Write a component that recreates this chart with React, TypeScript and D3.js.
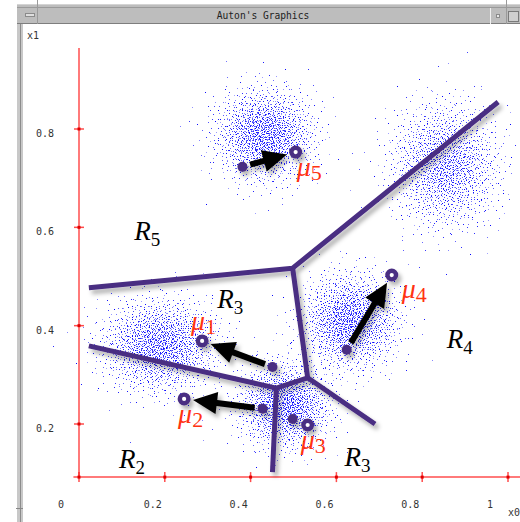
import React, { useMemo } from 'react';
import * as d3 from 'd3';

const W = 520;
const H = 522;

// Gaussian clusters of the sample (centre, spread in data units, point count)
const clusterCenters: [number, number][] = [
  [0.432, 0.788],
  [0.853, 0.727],
  [0.631, 0.41],
  [0.187, 0.36],
  [0.479, 0.239],
];
const clusterSpreads: [number, number][] = [
  [0.056, 0.046],
  [0.062, 0.062],
  [0.056, 0.047],
  [0.066, 0.046],
  [0.052, 0.042],
];
const clusterSizes = [1700, 1700, 1700, 1800, 1600];

// Means before (filled dots) and after (rings) the update step
const meanIds = ['1', '2', '3', '4', '5'];
const oldMeans: [number, number][] = [
  [0.451, 0.316],
  [0.428, 0.231],
  [0.498, 0.21],
  [0.624, 0.351],
  [0.381, 0.723],
];
const newMeans: [number, number][] = [
  [0.287, 0.369],
  [0.245, 0.251],
  [0.533, 0.198],
  [0.729, 0.503],
  [0.505, 0.753],
];
const meanMoved = [true, true, false, true, true];

// Voronoi region boundaries
const boundaryPaths: [number, number][][] = [
  [[0.023, 0.477], [0.498, 0.517], [0.977, 0.855]],
  [[0.498, 0.517], [0.533, 0.294], [0.69, 0.2]],
  [[0.023, 0.359], [0.46, 0.273], [0.533, 0.294]],
  [[0.46, 0.273], [0.451, 0.102]],
];

// Region names
const regionIds = ['5', '3', '4', '2', '3'];
const regionAnchors: [number, number][] = [
  [0.129, 0.574],
  [0.322, 0.436],
  [0.857, 0.355],
  [0.093, 0.111],
  [0.619, 0.115],
];

// Axes
const xTicks = [0, 0.2, 0.4, 0.6, 0.8, 1];
const xTickLabels = ['0', '0.2', '0.4', '0.6', '0.8', '1'];
const yTicks = [0.2, 0.4, 0.6, 0.8];
const yTickLabels = ['0.2', '0.4', '0.6', '0.8'];
const xAxisExtent = [-0.013, 1.03];
const yAxisExtent = [0.092, 0.965];

const x = d3.scaleLinear().domain([0, 1]).range([79, 508]);
const y = d3.scaleLinear().domain([0.2, 0.8]).range([424, 129]);

const PURPLE = '#4a2d82';
const MU_RED = '#ff3312';
const AXIS_RED = '#ff7a7a';
const TICK_RED = '#ff2020';

// Deterministic low-discrepancy sequence for the scatter texture
function halton(i: number, b: number) {
  let f = 1;
  let r = 0;
  while (i > 0) {
    f /= b;
    r += f * (i % b);
    i = Math.floor(i / b);
  }
  return r;
}

function buildPoints() {
  const pts: { px: number; py: number; a: number }[] = [];
  clusterCenters.forEach(([cx, cy], k) => {
    const [sx, sy] = clusterSpreads[k];
    for (let j = 0; j < clusterSizes[k]; j++) {
      const idx = j + 1 + k * 2203;
      const u1 = Math.max(halton(idx, 2), 1e-6);
      const u2 = halton(idx, 3);
      const a = halton(idx, 5);
      const r = Math.sqrt(-2 * Math.log(u1));
      const vx = cx + sx * r * Math.cos(2 * Math.PI * u2);
      const vy = cy + sy * r * Math.sin(2 * Math.PI * u2);
      pts.push({ px: Math.round(x(vx)), py: Math.round(y(vy)), a: 0.35 + 0.65 * a });
    }
  });
  return pts;
}

function Arrow({ from, to }: { from: [number, number]; to: [number, number] }) {
  const p0 = [x(from[0]), y(from[1])];
  const p1 = [x(to[0]), y(to[1])];
  const dx = p1[0] - p0[0];
  const dy = p1[1] - p0[1];
  const len = Math.hypot(dx, dy);
  const ux = dx / len;
  const uy = dy / len;
  const nx = -uy;
  const ny = ux;
  const headLen = 24;
  const headHalf = 11;
  const sx = p0[0] + ux * 8;
  const sy = p0[1] + uy * 8;
  const tx = p1[0] - ux * 9;
  const ty = p1[1] - uy * 9;
  const bx = tx - ux * headLen;
  const by = ty - uy * headLen;
  const head = [
    [tx, ty],
    [bx + nx * headHalf, by + ny * headHalf],
    [bx - nx * headHalf, by - ny * headHalf],
  ];
  return (
    <g>
      <line x1={sx} y1={sy} x2={bx + ux * 2} y2={by + uy * 2} stroke="#000" strokeWidth={6} />
      <polygon points={head.map((p) => p.join(',')).join(' ')} fill="#000" />
    </g>
  );
}

function WindowFrame() {
  return (
    <g>
      {/* left border */}
      <rect x={17} y={4} width={6} height={H - 4} fill="#c8c8c8" />
      <line x1={20.5} y1={4} x2={20.5} y2={H} stroke="#8c8c8c" strokeWidth={1} />
      <line x1={16} y1={508.5} x2={23} y2={508.5} stroke="#888" strokeWidth={1} />
      {/* title bar */}
      <line x1={17} y1={4.5} x2={W} y2={4.5} stroke="#d4d4d4" strokeWidth={1} />
      <rect x={17} y={5} width={W - 17} height={19} fill="#bdbdbd" />
      <line x1={17} y1={7.5} x2={W} y2={7.5} stroke="#9a9a9a" strokeWidth={1} />
      <line x1={17} y1={23.5} x2={W} y2={23.5} stroke="#7e7e7e" strokeWidth={1} />
      <line x1={37.5} y1={0} x2={37.5} y2={24} stroke="#9a9a9a" strokeWidth={1} />
      <rect x={25.5} y={13.5} width={9} height={3} fill="#dedede" stroke="#8a8a8a" strokeWidth={1} />
      <line x1={490.5} y1={8} x2={490.5} y2={24} stroke="#f0f0f0" strokeWidth={1} />
      <rect x={496.5} y={14.5} width={3} height={3} fill="#e8e8e8" stroke="#8a8a8a" strokeWidth={1} />
      <line x1={506.5} y1={0} x2={506.5} y2={24} stroke="#9a9a9a" strokeWidth={1} />
      <rect x={508.5} y={11.5} width={10} height={10} fill="#cfcfcf" stroke="#7a7a7a" strokeWidth={1} />
      <text
        x={263}
        y={19}
        textAnchor="middle"
        fontFamily="DejaVu Sans Mono, monospace"
        fontSize={9.6}
        fill="#222"
      >
        Auton's Graphics
      </text>
    </g>
  );
}

export default function App() {
  const points = useMemo(buildPoints, []);
  const line = d3
    .line<[number, number]>()
    .x((d) => x(d[0]))
    .y((d) => y(d[1]));

  const axisY = y(yAxisExtent[0]);
  const axisX = x(0);

  return (
    <svg
      width={W}
      height={H}
      viewBox={`0 0 ${W} ${H}`}
      style={{ position: 'absolute', left: 0, top: 0, background: '#fff' }}
    >
      <defs>
        <filter id="shade" x="-20%" y="-20%" width="140%" height="140%">
          <feDropShadow dx={3} dy={4} stdDeviation={2.2} floodColor="#000" floodOpacity={0.3} />
        </filter>
      </defs>
      <rect width={W} height={H} fill="#fff" />
      <WindowFrame />

      {/* axes */}
      <g>
        <line x1={x(xAxisExtent[0])} y1={axisY} x2={x(xAxisExtent[1])} y2={axisY} stroke={AXIS_RED} strokeWidth={2} />
        <line x1={axisX} y1={y(yAxisExtent[1])} x2={axisX} y2={axisY} stroke={AXIS_RED} strokeWidth={2} />
        {xTicks.map((t, i) => (
          <g key={`xt${i}`}>
            <line x1={x(t)} y1={axisY - 5} x2={x(t)} y2={axisY + 5} stroke={TICK_RED} strokeWidth={1.5} opacity={0.8} />
            <rect x={x(t) - 1.5} y={axisY - 1.5} width={3} height={3} fill="#e00000" />
            <text
              x={x(t) - 21}
              y={508}
              fontFamily="DejaVu Sans Mono, monospace"
              fontSize={10}
              fill="#333"
            >
              {xTickLabels[i]}
            </text>
          </g>
        ))}
        {yTicks.map((t, i) => (
          <g key={`yt${i}`}>
            <line x1={axisX - 5} y1={y(t)} x2={axisX + 5} y2={y(t)} stroke={TICK_RED} strokeWidth={1.5} opacity={0.8} />
            <rect x={axisX - 1.5} y={y(t) - 1.5} width={3} height={3} fill="#e00000" />
            <text x={36} y={y(t) + 8} fontFamily="DejaVu Sans Mono, monospace" fontSize={10} fill="#333">
              {yTickLabels[i]}
            </text>
          </g>
        ))}
        <text x={27} y={39} fontFamily="DejaVu Sans Mono, monospace" fontSize={10} fill="#333">
          x1
        </text>
        <text x={508} y={516} fontFamily="DejaVu Sans Mono, monospace" fontSize={10} fill="#333">
          x0
        </text>
      </g>

      {/* sample points */}
      <g fill="#0000ff">
        {points.map((p, i) => (
          <rect key={i} x={p.px} y={p.py} width={1} height={1} fillOpacity={p.a} />
        ))}
      </g>

      {/* region boundaries, arrows and means */}
      <g filter="url(#shade)">
        {boundaryPaths.map((pth, i) => (
          <path key={`b${i}`} d={line(pth) || ''} fill="none" stroke={PURPLE} strokeWidth={5} strokeLinejoin="round" />
        ))}
        {oldMeans.map((m, i) =>
          meanMoved[i] ? <Arrow key={`a${i}`} from={m} to={newMeans[i]} /> : null
        )}
        {oldMeans.map((m, i) => (
          <circle key={`o${i}`} cx={x(m[0])} cy={y(m[1])} r={5} fill={PURPLE} />
        ))}
        {newMeans.map((m, i) => (
          <circle key={`n${i}`} cx={x(m[0])} cy={y(m[1])} r={4.3} fill="#fff" stroke={PURPLE} strokeWidth={4.4} />
        ))}
      </g>

      {/* mean labels */}
      {newMeans.map((m, i) => {
        const off = [
          [-11, -11],
          [-6, 24],
          [-7, 24],
          [10, 23],
          [1, 24],
        ][i];
        return (
          <text
            key={`ml${i}`}
            x={x(m[0]) + off[0]}
            y={y(m[1]) + off[1]}
            fontFamily="Liberation Serif, serif"
            fontStyle="italic"
            fontSize={28}
            fill={MU_RED}
          >
            μ
            <tspan fontStyle="normal" fontSize={22} dy={4}>
              {meanIds[i]}
            </tspan>
          </text>
        );
      })}

      {/* region labels */}
      {regionAnchors.map((r, i) => (
        <text
          key={`rl${i}`}
          x={x(r[0])}
          y={y(r[1])}
          fontFamily="Liberation Serif, serif"
          fontStyle="italic"
          fontSize={27}
          fill="#000"
        >
          R
          <tspan fontStyle="normal" fontSize={19} dy={6}>
            {regionIds[i]}
          </tspan>
        </text>
      ))}
    </svg>
  );
}
